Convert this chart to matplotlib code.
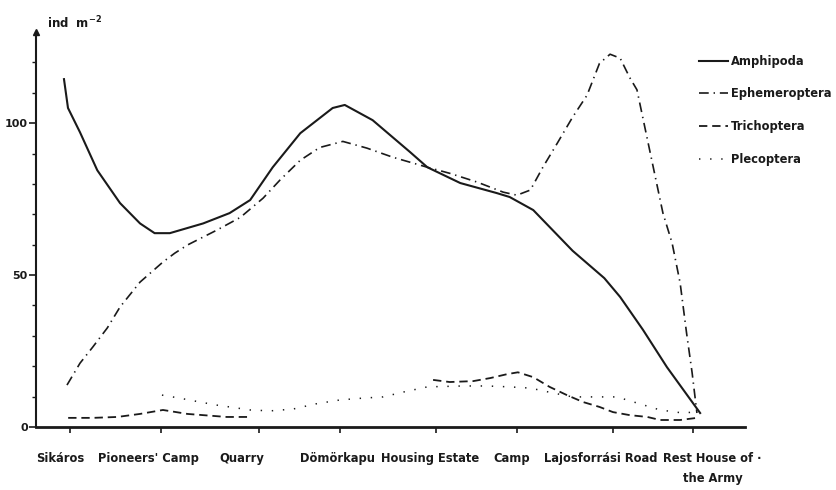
import numpy as np
import matplotlib
matplotlib.use("Agg")
import matplotlib.pyplot as plt
from matplotlib.transforms import ScaledTranslation

plt.rcParams["font.family"] = ["DejaVu Sans"]
plt.rcParams["lines.scale_dashes"] = False
plt.rcParams["mathtext.default"] = "regular"

# Sampling sites along the stream and their positions along the x axis
sites = ["Sikáros", "Pioneers' Camp", "Quarry", "Dömörkapu", "Housing Estate",
         "Camp", "Lajosforrási Road", "Rest House of \u00b7\nthe Army"]
site_pos = [0.0, 0.91, 1.89, 2.70, 3.66, 4.47, 5.43, 6.23]

# Density (ind m^-2); x given in site-index units
amph_x = [-0.066, -0.022, 0.11, 0.30, 0.55, 0.77, 0.93, 1.09, 1.43, 1.70, 1.91,
          2.17, 2.51, 2.91, 3.05, 3.34, 3.73, 3.91, 4.30, 4.75, 4.91, 5.17,
          5.58, 5.91, 6.09, 6.375, 6.675, 7.09]
amph_y = [114.5, 105, 97, 84.5, 73.7, 67, 63.8, 63.8, 67, 70.4, 74.7,
          85.5, 96.7, 105, 106, 101, 90.5, 85.5, 80.3, 77, 75.7, 71.4,
          58, 49, 42.8, 32, 19.7, 4.6]

ephem_x = [-0.033, 0.11, 0.25, 0.41, 0.55, 0.77, 1.02, 1.14, 1.27, 1.57, 1.81,
           2.05, 2.26, 2.51, 2.75, 3.03, 3.28, 3.55, 3.91, 4.17, 4.51, 4.83,
           5.0, 5.14, 5.27, 5.42, 5.58, 5.73, 5.86, 5.97, 6.09, 6.21, 6.30,
           6.46, 6.625, 6.74, 6.84, 6.92, 6.99, 7.05]
ephem_y = [13.8, 21, 26.3, 32.6, 39.5, 47.7, 54.3, 57.2, 59.9, 64.8, 69,
           75.3, 81.3, 87.8, 92, 94, 91.8, 88.8, 85.5, 83.5, 80.6, 77.3,
           76.3, 78, 85.5, 93.4, 102, 109.2, 119.7, 122.7, 121.4, 115, 111,
           91, 70.4, 60.5, 47.4, 31, 17.8, 4.6]

trich_x = [-0.02, 0.25, 0.52, 0.77, 1.02, 1.27, 1.43, 1.67, 1.91, 2.5,
           3.97, 4.17, 4.46, 4.67, 4.88, 5.01, 5.17, 5.34, 5.52, 5.69, 5.86,
           6.0, 6.21, 6.43, 6.59, 6.84, 7.05]
trich_y = [3, 3, 3.3, 4.3, 5.6, 4.3, 3.9, 3.3, 3.3, np.nan,
           15.5, 14.8, 15.1, 16.1, 17.4, 18, 16.4, 13.2, 10.5, 8.2, 6.6,
           4.9, 3.9, 3.3, 2.3, 2.3, 3]

pleco_x = [1.01, 1.19, 1.40, 1.57, 1.70, 1.91, 2.14, 2.42, 2.70, 3.0, 3.24,
           3.45, 3.66, 3.91, 4.33, 4.63, 4.91, 5.14, 5.375, 5.58, 5.83, 6.05,
           6.30, 6.59, 6.875, 7.05]
pleco_y = [10.5, 9.5, 8.2, 7.2, 6.6, 5.6, 5.3, 5.9, 7.6, 8.9, 9.5,
           9.9, 11.5, 13.2, 13.5, 13.5, 13.2, 12.8, 11.2, 9.9, 9.9, 9.9,
           7.9, 5.6, 4.6, 5]


def along(xs):
    """Map site-index coordinates onto positions along the axis."""
    idx = np.arange(len(site_pos))
    slope_lo = site_pos[1] - site_pos[0]
    slope_hi = site_pos[-1] - site_pos[-2]
    out = []
    for x in xs:
        if x < 0:
            out.append(site_pos[0] + x * slope_lo)
        elif x > idx[-1]:
            out.append(site_pos[-1] + (x - idx[-1]) * slope_hi)
        else:
            out.append(np.interp(x, idx, site_pos))
    return out


ink = "#1a1a1a"
fig = plt.figure(figsize=(8.37, 4.90), dpi=100)
ax = fig.add_axes([0.043, 0.1286, 0.847, 0.806])

ax.plot(along(amph_x), amph_y, color=ink, lw=1.5, label="Amphipoda")
l_e, = ax.plot(along(ephem_x), ephem_y, color=ink, lw=1.2, label="Ephemeroptera")
l_e.set_dashes((7, 3.5, 1, 3.5))
l_t, = ax.plot(along(trich_x), trich_y, color=ink, lw=1.3, label="Trichoptera")
l_t.set_dashes((6, 3.5))
l_p, = ax.plot(along(pleco_x), pleco_y, color=ink, lw=1.1, label="Plecoptera")
l_p.set_dashes((1, 7))

ax.set_xlim(-0.34, 6.75)
ax.set_ylim(0, 130)

for s in ("top", "right"):
    ax.spines[s].set_visible(False)
ax.spines["left"].set_linewidth(1.5)
ax.spines["bottom"].set_linewidth(2.0)
ax.spines["left"].set_color(ink)
ax.spines["bottom"].set_color(ink)

# arrow head on the y axis
ax.plot(0, 1.0, marker="^", color=ink, markersize=4, transform=ax.transAxes,
        clip_on=False)

ax.set_yticks([0, 50, 100])
ax.set_yticks(np.arange(10, 130, 10), minor=True)
ax.tick_params(axis="y", which="major", length=5, width=1.2, direction="out",
               labelsize=8, pad=1, colors=ink)
ax.tick_params(axis="y", which="minor", length=3, width=1.0, direction="out",
               colors=ink)
for t in ax.get_yticklabels():
    t.set_fontweight("bold")

ax.set_xticks(site_pos)
ax.set_xticklabels(sites, fontsize=8.3, fontweight="bold")
ax.tick_params(axis="x", length=4, width=1.2, direction="out", pad=14,
               colors=ink)
labels = ax.get_xticklabels()
labels[-1].set_linespacing(1.75)
# hand-set nudges of the site names (points)
nudges = [-7, -9, -12, -2, -4, -4, -9, 14]
for lab, dx in zip(labels, nudges):
    lab.set_transform(lab.get_transform() +
                      ScaledTranslation(dx / 72, 0, fig.dpi_scale_trans))

fig.text(0.056, 0.943, "ind  m$^{-2}$", fontsize=8.5, fontweight="bold",
         color=ink, ha="left", va="baseline")

leg = ax.legend(loc="upper left", bbox_to_anchor=(0.828, 0.90),
                bbox_transform=fig.transFigure, frameon=False, fontsize=8.3,
                handlelength=2.5, handletextpad=0.3, labelspacing=1.7,
                borderpad=0)
for t in leg.get_texts():
    t.set_fontweight("bold")
    t.set_color(ink)

fig.savefig("out.png", dpi=100)
